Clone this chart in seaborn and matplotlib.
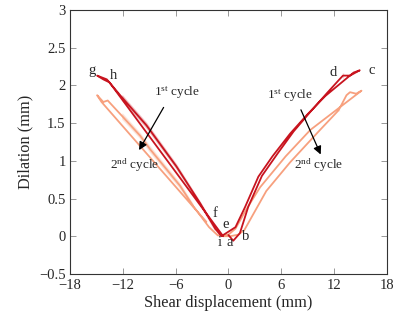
import pandas as pd
import matplotlib
matplotlib.use("Agg")
import matplotlib.pyplot as plt
import seaborn as sns

sns.set_theme(style="ticks")
plt.rcParams['font.family'] = ['Liberation Serif', 'DejaVu Serif']
plt.rcParams['mathtext.fontset'] = 'custom'
plt.rcParams['mathtext.rm'] = 'Liberation Serif'
plt.rcParams['mathtext.it'] = 'Liberation Serif:italic'

# 1st cycle: a -> b -> c -> d -> e -> f -> g -> h -> i
cycle1_x = [0.0, 0.55, 1.3, 2.25, 3.8, 5.6, 7.4, 9.3, 11.2, 12.6, 13.0, 13.8, 14.9,
            14.2, 13.0, 11.0, 9.0, 7.0, 5.0, 3.4, 1.9, 0.8, 0.0, -0.8, -1.5, -3.2,
            -5.9, -9.3, -12.0, -13.8, -14.9,
            -14.2, -13.5, -12.0, -9.3, -5.9, -3.2, -1.5, -0.6]
cycle1_y = [0.0, -0.06, 0.04, 0.39, 0.8, 1.1, 1.39, 1.65, 1.9, 2.08, 2.16, 2.13, 2.2,
            2.17, 2.1, 1.86, 1.62, 1.36, 1.06, 0.79, 0.39, 0.12, 0.03, 0.0, 0.08, 0.45,
            0.95, 1.5, 1.86, 2.08, 2.13,
            2.08, 2.04, 1.8, 1.44, 0.9, 0.42, 0.12, 0.0]

# 2nd cycle
cycle2_x = [-0.6, 0.2, 1.1, 1.8, 4.3, 7.0, 10.4, 12.5, 13.4, 13.8, 14.5, 15.1,
            14.5, 12.5, 9.3, 6.5, 3.6, 2.0, 0.8, 0.0, -1.2, -2.2, -4.0,
            -5.5, -8.9, -10.0, -12.0, -13.7, -14.2, -14.9,
            -14.4, -12.0, -10.0, -8.9, -5.5, -4.0, -2.5, -1.2]
cycle2_y = [0.0, 0.0, 0.02, 0.08, 0.6, 0.98, 1.41, 1.68, 1.87, 1.91, 1.9, 1.93,
            1.88, 1.66, 1.41, 1.06, 0.65, 0.35, 0.1, 0.02, 0.01, 0.12, 0.42,
            0.7, 1.19, 1.36, 1.62, 1.8, 1.78, 1.87,
            1.78, 1.55, 1.3, 1.12, 0.64, 0.38, 0.19, 0.01]

point_labels = ['a', 'b', 'c', 'd', 'e', 'f', 'g', 'h', 'i']
label_x = [0.1, 2.0, 16.3, 11.9, -0.3, -1.5, -15.5, -13.1, -1.0]
label_y = [-0.09, -0.01, 2.2, 2.17, 0.15, 0.3, 2.2, 2.13, -0.09]

df1 = pd.DataFrame({'x': cycle1_x, 'y': cycle1_y})
df2 = pd.DataFrame({'x': cycle2_x, 'y': cycle2_y})

fig = plt.figure(figsize=(3.99, 3.23), dpi=100)
ax = fig.add_axes([0.175, 0.152, 0.795, 0.817])

sns.lineplot(data=df2, x='x', y='y', sort=False, color='#f7a07e', linewidth=1.3, ax=ax)
sns.lineplot(data=df1, x='x', y='y', sort=False, color='#c8141f', linewidth=1.3, ax=ax)

for t, lx, ly in zip(point_labels, label_x, label_y):
    ax.text(lx, ly, t, fontsize=10.5, ha='center', va='center')

# cycle annotations
ax.annotate('', xy=(-10.3, 1.11), xytext=(-7.2, 1.74),
            arrowprops=dict(arrowstyle='-|>', color='black', lw=0.9))
ax.text(-5.8, 1.9, r'1$^{\mathrm{st}}$ cycle', fontsize=9.5, ha='center', va='center')
ax.text(-10.6, 0.94, r'2$^{\mathrm{nd}}$ cycle', fontsize=9.5, ha='center', va='center')
ax.annotate('', xy=(10.6, 1.05), xytext=(8.1, 1.71),
            arrowprops=dict(arrowstyle='-|>', color='black', lw=0.9))
ax.text(7.0, 1.87, r'1$^{\mathrm{st}}$ cycle', fontsize=9.5, ha='center', va='center')
ax.text(10.2, 0.94, r'2$^{\mathrm{nd}}$ cycle', fontsize=9.5, ha='center', va='center')

ax.set_xlim(-18, 18)
ax.set_ylim(-0.5, 3)
ax.set_xticks([-18, -12, -6, 0, 6, 12, 18])
ax.set_yticks([-0.5, 0, 0.5, 1, 1.5, 2, 2.5, 3])
ax.set_yticklabels(['\u22120.5', '0', '0.5', '1', '1.5', '2', '2.5', '3'])
ax.set_xticklabels(['\u221218', '\u221212', '\u22126', '0', '6', '12', '18'])
ax.tick_params(direction='in', top=True, right=True, length=4, width=0.6,
               color='#888888', labelsize=10.5)
ax.tick_params(axis='x', pad=4)
ax.tick_params(axis='y', pad=3)
for s in ax.spines.values():
    s.set_color('#333333')
    s.set_linewidth(0.8)

ax.set_xlabel('Shear displacement (mm)', fontsize=11.8, labelpad=2)
ax.set_ylabel('Dilation (mm)', fontsize=11.8)

plt.savefig('out.png', dpi=100)
